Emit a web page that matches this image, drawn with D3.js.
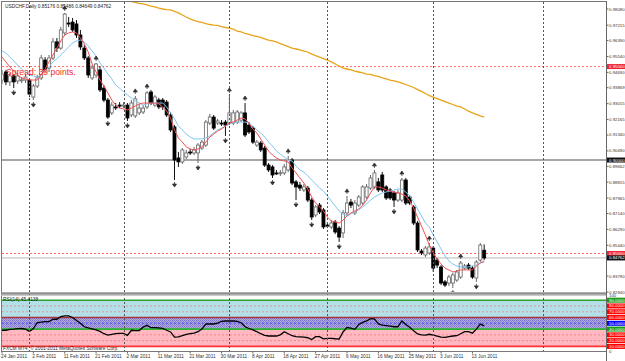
<!DOCTYPE html>
<html>
<head>
<meta charset="utf-8">
<script src="https://cdn.jsdelivr.net/npm/d3@7"></script>
<style>
  body { margin: 0; background: #fff; }
  svg { display: block; font-family: "Liberation Sans", Arial, sans-serif; }
</style>
</head>
<body>
<div id="chart"></div>
<script>
// USDCHF daily bars, 24 Jan 2011 .. 16 Jun 2011
var opens = [
  .9428, .9471, .9418, .9450, .9423, .9428, .9428, .9428, .9337, .9396,
  .9439, .9535, .9492, .9546, .9632, .9599, .9680, .9733, .9738, .9728,
  .9669, .9599, .9546, .9439, .9455, .9482, .9385, .9321, .9252, .9284,
  .9294, .9289, .9294, .9241, .9236, .9252, .9257, .9284, .9364, .9294,
  .9321, .9321, .9310, .9241, .9177, .9011, .8990, .9016, .9043, .9038,
  .9038, .9064, .9080, .9198, .9230, .9198, .9198, .9203, .9198, .9198,
  .9203, .9214, .9252, .9187, .9171, .9080, .9091, .9064, .8973, .8963,
  .8931, .8931, .8931, .8947, .9000, .8883, .8866, .8840, .8850, .8786,
  .8706, .8759, .8733, .8652, .8642, .8668, .8636, .8610, .8717, .8775,
  .8717, .8759, .8770, .8802, .8850, .8856, .8883, .8920, .8856, .8840,
  .8824, .8786, .8786, .8893, .8802, .8749, .8663, .8513, .8492, .8503,
  .8529, .8465, .8428, .8348, .8342, .8342, .8358, .8374, .8422, .8438,
  .8422, .8369, .8465, .85176
];
var highs = [
  .9482, .9482, .9466, .9460, .9466, .9444, .9460, .9439, .9407, .9455,
  .9562, .9551, .9562, .9653, .9653, .9712, .9787, .9765, .9760, .9749,
  .9696, .9615, .9557, .9508, .9519, .9503, .9401, .9332, .9310, .9305,
  .9310, .9310, .9305, .9321, .9343, .9300, .9294, .9369, .9375, .9348,
  .9332, .9332, .9321, .9257, .9187, .9043, .9064, .9054, .9059, .9070,
  .9091, .9107, .9214, .9246, .9241, .9220, .9214, .9214, .9348, .9268,
  .9268, .9262, .9305, .9203, .9182, .9107, .9102, .9075, .8984, .8973,
  .8947, .8947, .8979, .9022, .9011, .8893, .8883, .8872, .8861, .8797,
  .8759, .8770, .8743, .8668, .8679, .8679, .8647, .8733, .8808, .8792,
  .8786, .8813, .8866, .8872, .8920, .8947, .8904, .8936, .8866, .8850,
  .8834, .8840, .8904, .8904, .8813, .8759, .8674, .8524, .8540, .8556,
  .8540, .8476, .8438, .8358, .8385, .8396, .8412, .8460, .8444, .8449,
  .8433, .8465, .8556, .85486
];
var lows = [
  .9407, .9401, .9396, .9385, .9407, .9412, .9412, .9337, .9321, .9385,
  .9428, .9471, .9471, .9535, .9578, .9589, .9669, .9712, .9685, .9653,
  .9589, .9535, .9439, .9428, .9439, .9364, .9310, .9220, .9241, .9268,
  .9278, .9278, .9209, .9230, .9225, .9241, .9246, .9273, .9294, .9284,
  .9273, .9268, .9230, .9150, .8893, .8963, .8979, .9006, .9027, .9027,
  .8984, .9054, .9070, .9187, .9161, .9187, .9182, .9129, .9187, .9187,
  .9193, .9203, .9123, .9139, .9086, .9070, .9043, .8963, .8936, .8904,
  .8920, .8915, .8920, .8936, .8866, .8786, .8834, .8829, .8775, .8679,
  .8695, .8711, .8631, .8636, .8631, .8604, .8562, .8583, .8706, .8743,
  .8706, .8749, .8759, .8792, .8840, .8845, .8829, .8829, .8786, .8786,
  .8749, .8775, .8775, .8759, .8759, .8652, .8508, .8492, .8481, .8492,
  .8401, .8422, .8331, .8321, .8326, .8315, .8348, .8364, .8412, .8412,
  .8364, .8348, .8454, .84649
];
var closes = [
  .9460, .9418, .9450, .9418, .9450, .9429, .9444, .9353, .9396, .9439,
  .9546, .9482, .9546, .9632, .9599, .9696, .9781, .9732, .9696, .9669,
  .9605, .9546, .9455, .9492, .9514, .9375, .9321, .9230, .9294, .9283,
  .9289, .9294, .9225, .9305, .9327, .9278, .9278, .9359, .9305, .9337,
  .9284, .9284, .9241, .9161, .9000, .8990, .9054, .9038, .9042, .9054,
  .9080, .9096, .9203, .9230, .9171, .9209, .9197, .9187, .9252, .9252,
  .9257, .9252, .9134, .9150, .9096, .9096, .9054, .8973, .8947, .8920,
  .8930, .8932, .8963, .9000, .8877, .8856, .8850, .8856, .8786, .8695,
  .8749, .8722, .8642, .8651, .8663, .8615, .8588, .8717, .8770, .8759,
  .8770, .8802, .8856, .8856, .8904, .8931, .8840, .8840, .8797, .8797,
  .8786, .8824, .8893, .8770, .8770, .8663, .8519, .8503, .8529, .8535,
  .8422, .8438, .8342, .8331, .8374, .8385, .8401, .8449, .8433, .8422,
  .8374, .8454, .8545, .84762
];

// moving averages as drawn on the chart
var maFast = [
  .9551, .9525, .9498, .9476, .9455, .9439, .9434, .9428, .9428, .9428,
  .9455, .9487, .9525, .9562, .9599, .9637, .9669, .9680, .9685, .9680,
  .9653, .9621, .9578, .9514, .9471, .9428, .9396, .9359, .9321, .9294,
  .9278, .9273, .9268, .9278, .9289, .9300, .9305, .9305, .9305, .9305,
  .9300, .9284, .9262, .9225, .9161, .9118, .9096, .9070, .9059, .9054,
  .9059, .9070, .9096, .9123, .9139, .9155, .9166, .9182, .9198, .9203,
  .9214, .9225, .9220, .9198, .9166, .9145, .9113, .9080, .9048, .9027,
  .9011, .9000, .8995, .8990, .8957, .8931, .8904, .8877, .8845, .8802,
  .8770, .8749, .8727, .8695, .8674, .8668, .8663, .8679, .8701, .8717,
  .8727, .8738, .8759, .8786, .8824, .8856, .8856, .8850, .8840, .8834,
  .8829, .8824, .8818, .8808, .8781, .8743, .8695, .8647, .8599, .8545,
  .8503, .8470, .8444, .8422, .8412, .8401, .8406, .8412, .8412, .8412,
  .8412, .8433, .8449, .8460
];
var maSlow = [
  .9583, .9573, .9551, .9530, .9508, .9487, .9471, .9455, .9450, .9444,
  .9455, .9476, .9498, .9525, .9541, .9562, .9583, .9605, .9626, .9637,
  .9642, .9632, .9610, .9583, .9557, .9519, .9492, .9460, .9434, .9401,
  .9385, .9364, .9348, .9332, .9316, .9305, .9294, .9300, .9305, .9305,
  .9305, .9305, .9284, .9252, .9220, .9182, .9161, .9139, .9123, .9113,
  .9113, .9113, .9118, .9129, .9145, .9161, .9171, .9182, .9193, .9198,
  .9203, .9203, .9203, .9198, .9182, .9161, .9145, .9123, .9096, .9075,
  .9048, .9032, .9016, .9000, .8995, .8968, .8947, .8936, .8915, .8893,
  .8872, .8850, .8834, .8808, .8781, .8754, .8727, .8711, .8701, .8711,
  .8722, .8733, .8749, .8765, .8786, .8802, .8813, .8824, .8829, .8834,
  .8840, .8845, .8845, .8829, .8808, .8775, .8738, .8701, .8663, .8642,
  .8599, .8562, .8524, .8487, .8460, .8444, .8433, .8428, .8428, .8428,
  .8433, .8438, .8449, .8454
];
// long MA only shows from bar 30 on (above the window before that)
var ma200Start = 30;
var ma200 = [
  .9867, .9862, .9854, .9848, .9843, .9838, .9835, .9830, .9824, .9819,
  .9813, .9808, .9805, .9803, .9795, .9787, .9776, .9765, .9755, .9747,
  .9741, .9736, .9730, .9725, .9722, .9720, .9714, .9709, .9706, .9701,
  .9690, .9685, .9677, .9672, .9666, .9661, .9656, .9648, .9642, .9637,
  .9632, .9623, .9615, .9607, .9599, .9594, .9589, .9583, .9578, .9567,
  .9559, .9551, .9543, .9535, .9525, .9514, .9503, .9492, .9487, .9482,
  .9476, .9471, .9466, .9460, .9458, .9452, .9447, .9439, .9434, .9428,
  .9423, .9418, .9412, .9404, .9396, .9388, .9377, .9367, .9356, .9345,
  .9337, .9329, .9321, .9313, .9305, .9297, .9289, .9284, .9273, .9262,
  .9252, .9244, .9236, .9230
];

// bar indexes carrying a fractal arrow
var fractalUp = [16, 24, 34, 37, 58, 62, 73, 88, 95, 102, 109, 117];
var fractalDown = [3, 8, 27, 32, 44, 50, 57, 69, 75, 79, 86, 100, 115, 121];

// RSI(14)
var rsi = [
  38, 38, 39.5, 40, 40.7, 41, 40, 36, 41, 51,
  52, 52.8, 53, 57, 57, 61.5, 63, 62.8, 60, 55,
  50, 44, 42, 40.5, 38.5, 36, 32, 29.5, 31, 32,
  32.7, 32.7, 29, 38, 37.5, 37.5, 43.5, 46.5, 42.4, 42.4,
  42, 41.3, 38, 35, 26, 26.5, 28.5, 31, 32, 33,
  35.5, 40, 48.8, 48.8, 48.8, 50.5, 53.5, 54, 54, 54,
  53.3, 51, 44, 41, 38.5, 35.5, 32, 29, 28, 28,
  28, 30, 35.5, 32, 28.5, 27, 26.5, 26, 25, 22,
  26.8, 26.8, 23, 24, 24, 23.3, 22.8, 35, 43, 41.5,
  39.6, 48, 51.7, 54, 58, 57.5, 49, 47, 46, 45,
  44, 44, 54, 48, 43, 37, 31.5, 30, 29.7, 31,
  29.5, 28, 26, 25.5, 27, 28, 28.5, 32, 35.5, 35.5,
  33, 40, 48.5, 45.4138
];

// time axis: one label every 8 bars
var dateLabels = ["24 Jan 2011", "2 Feb 2011", "11 Feb 2011", "21 Feb 2011", "2 Mar 2011",
  "11 Mar 2011", "21 Mar 2011", "30 Mar 2011", "8 Apr 2011", "18 Apr 2011", "27 Apr 2011",
  "6 May 2011", "16 May 2011", "25 May 2011", "3 Jun 2011", "13 Jun 2011"];
var monthStarts = [7, 31, 58, 83, 110, 138];

// visible price labels (the one under the bid box is hidden in the original)
var priceTicks = [0.98080, 0.97215, 0.96390, 0.95540, 0.94690, 0.93869, 0.93015, 0.92165,
  0.91340, 0.90490, 0.89662, 0.88815, 0.87965, 0.87140, 0.86290, 0.85440,
  0.83790, 0.82940];

var levelPrices = [0.95, 0.90, 0.85];
var levelKinds = ["red", "gray", "red"];
var bidPrice = 0.84762;

var rsiLevels = [90, 80, 70, 60, 50, 40, 30, 20, 10];
var rsiLevelColors = ["#2aa52a", "#d99", "#d99", "#a33", "#55f", "#2ab52a", "#e88", "#e88", "#f33"];
var rsiBoxColors = ["#1a9a1a", "#f00", "#f00", "#f00", "#00f", "#1a9a1a", "#f00", "#f00", "#f00"];

// ----------------------------------------------------------------
var svgWidth = 625;
var svgHeight = 361;
var axisX = 606.5;
var labelFont = "4.3px";

var svg = d3.select("#chart")
  .append("svg")
  .attr("width", svgWidth)
  .attr("height", svgHeight);

var defs = svg.append("defs");
defs.append("clipPath").attr("id", "mainClip")
  .append("rect").attr("x", 2).attr("y", 2).attr("width", axisX - 2).attr("height", 290);
defs.append("clipPath").attr("id", "rsiClip")
  .append("rect").attr("x", 2).attr("y", 296).attr("width", axisX - 2).attr("height", 55);

var dots = defs.append("pattern").attr("id", "dither")
  .attr("width", 2).attr("height", 2).attr("patternUnits", "userSpaceOnUse");
dots.append("rect").attr("width", 2).attr("height", 2).attr("fill", "#b4acd8");
dots.append("rect").attr("width", 1).attr("height", 1).attr("fill", "#7a74cc");
dots.append("rect").attr("x", 1).attr("y", 1).attr("width", 1).attr("height", 1).attr("fill", "#8c86d0");

var xScale = d3.scaleLinear().domain([0, opens.length - 1]).range([2, 484.2]);
var yScale = d3.scaleLinear().domain([0.8294, 0.9808]).range([292, 9]);
var rsiScale = d3.scaleLinear().domain([0, 100]).range([352.2, 294.4]);

var mainG = svg.append("g").attr("clip-path", "url(#mainClip)");
var rsiG = svg.append("g").attr("clip-path", "url(#rsiClip)");

// RSI background bands
rsiG.append("rect").attr("x", 2).attr("width", axisX - 2)
  .attr("y", rsiScale(90)).attr("height", rsiScale(60) - rsiScale(90)).attr("fill", "#b2dfe8");
rsiG.append("rect").attr("x", 2).attr("width", axisX - 2)
  .attr("y", rsiScale(60)).attr("height", rsiScale(40) - rsiScale(60)).attr("fill", "url(#dither)");
rsiG.append("rect").attr("x", 2).attr("width", axisX - 2)
  .attr("y", rsiScale(40)).attr("height", rsiScale(10) - rsiScale(40)).attr("fill", "#ffb8c2");

rsiLevels.forEach(function (lv, k) {
  var solid = (lv === 90 || lv === 60 || lv === 40 || lv === 10);
  rsiG.append("line")
    .attr("x1", 2).attr("x2", axisX)
    .attr("y1", rsiScale(lv)).attr("y2", rsiScale(lv))
    .attr("stroke", rsiLevelColors[k])
    .attr("stroke-width", solid ? 1.6 : 1)
    .attr("stroke-dasharray", solid ? null : "2,2");
});

// month separators through both panels
svg.append("g").selectAll("line")
  .data(monthStarts)
  .enter()
  .append("line")
  .attr("x1", d => Math.round(xScale(d)) + 0.5)
  .attr("x2", d => Math.round(xScale(d)) + 0.5)
  .attr("y1", 2).attr("y2", 351)
  .attr("stroke", "#555")
  .attr("stroke-dasharray", "2,2");

// horizontal levels
levelPrices.forEach(function (p, k) {
  var yy = yScale(p);
  mainG.append("line")
    .attr("x1", 2).attr("x2", axisX)
    .attr("y1", yy).attr("y2", yy)
    .attr("stroke", levelKinds[k] === "red" ? "#ff6a6a" : "#8a8a8a")
    .attr("stroke-width", levelKinds[k] === "red" ? 1 : 1.6)
    .attr("stroke-dasharray", levelKinds[k] === "red" ? "2,2" : null);
});
mainG.append("line")
  .attr("x1", 2).attr("x2", axisX)
  .attr("y1", yScale(bidPrice)).attr("y2", yScale(bidPrice))
  .attr("stroke", "#b8b8b8");

// candles
var bars = d3.range(opens.length).map(function (i) {
  return { i: i, o: opens[i], h: highs[i], l: lows[i], c: closes[i] };
});

mainG.append("g").selectAll("line")
  .data(bars)
  .enter()
  .append("line")
  .attr("x1", d => xScale(d.i)).attr("x2", d => xScale(d.i))
  .attr("y1", d => yScale(d.h)).attr("y2", d => yScale(d.l))
  .attr("stroke", d => d.c >= d.o ? "#666" : "#111")
  .attr("stroke-width", 1);

mainG.append("g").selectAll("rect")
  .data(bars)
  .enter()
  .append("rect")
  .attr("x", d => xScale(d.i) - 1.5)
  .attr("width", 3)
  .attr("y", d => yScale(Math.max(d.o, d.c)))
  .attr("height", d => Math.max(1, Math.abs(yScale(d.o) - yScale(d.c))))
  .attr("fill", d => d.c >= d.o ? "#fff" : "#000")
  .attr("stroke", d => d.c >= d.o ? "#666" : "#000")
  .attr("stroke-width", 0.8);

// moving averages
function drawLine(g, values, start, color, width) {
  var line = d3.line()
    .x((d, k) => xScale(start + k))
    .y(d => yScale(d));
  g.append("path")
    .datum(values)
    .attr("d", line)
    .attr("fill", "none")
    .attr("stroke", color)
    .attr("stroke-width", width);
}
drawLine(mainG, maSlow, 0, "#7fc4f0", 1);
drawLine(mainG, maFast, 0, "#f05050", 1);
drawLine(mainG, ma200, ma200Start, "#e8a317", 1.3);

// fractal arrows
function arrow(cx, tip, dir) {
  // dir = -1 points up, +1 points down
  var base = tip - dir * 3;
  return "M" + cx + "," + tip + "L" + (cx - 2) + "," + base + "L" + (cx + 2) + "," + base + "Z" +
    "M" + cx + "," + base + "L" + cx + "," + (base - dir * 2);
}
mainG.append("g").selectAll("path")
  .data(fractalUp)
  .enter()
  .append("path")
  .attr("d", i => arrow(xScale(i), yScale(highs[i]) - 7, -1))
  .attr("fill", "#333").attr("stroke", "#333").attr("stroke-width", 0.8);
mainG.append("g").selectAll("path")
  .data(fractalDown)
  .enter()
  .append("path")
  .attr("d", i => arrow(xScale(i), yScale(lows[i]) + 7, 1))
  .attr("fill", "#333").attr("stroke", "#333").attr("stroke-width", 0.8);

// RSI line
rsiG.append("path")
  .datum(rsi)
  .attr("d", d3.line().x((d, k) => xScale(k)).y(d => rsiScale(d)))
  .attr("fill", "none")
  .attr("stroke", "#000")
  .attr("stroke-width", 1.3);

// texts inside the panels
svg.append("text").attr("x", 5).attr("y", 8)
  .style("font-size", "4.8px").attr("fill", "#222")
  .text("USDCHF,Daily  " + opens[123].toFixed(5) + " " + highs[123].toFixed(5) + " " +
    lows[123].toFixed(5) + " " + closes[123].toFixed(5));
svg.append("text").attr("x", 6).attr("y", 75)
  .style("font-size", "8.6px").attr("fill", "#f02828")
  .text("Spread: 39 points.");
svg.append("text").attr("x", 3).attr("y", 300.5)
  .style("font-size", "4.8px").attr("fill", "#222")
  .text("RSI(14) " + rsi[rsi.length - 1].toFixed(4));
svg.append("text").attr("x", 3).attr("y", 350.3)
  .style("font-size", "4.8px").attr("fill", "#333")
  .text("FXCM MT4, \u00a9 2001-2011 MetaQuotes Software Corp.");

// frame and panel separator
svg.append("line").attr("x1", 1.5).attr("x2", 1.5).attr("y1", 1).attr("y2", 351.5).attr("stroke", "#777");
svg.append("line").attr("x1", 1).attr("x2", axisX).attr("y1", 1.5).attr("y2", 1.5).attr("stroke", "#777");
svg.append("rect").attr("x", 1).attr("y", 292.3).attr("width", axisX - 1).attr("height", 2.4).attr("fill", "#8d8d8d");
svg.append("line").attr("x1", 1).attr("x2", axisX).attr("y1", 295.6).attr("y2", 295.6).attr("stroke", "#c4c4c4");
svg.append("line").attr("x1", 1).attr("x2", axisX).attr("y1", 351.5).attr("y2", 351.5).attr("stroke", "#777");
svg.append("line").attr("x1", axisX).attr("x2", axisX).attr("y1", 1).attr("y2", 361).attr("stroke", "#666");

// price axis
var axisG = svg.append("g");
priceTicks.forEach(function (p) {
  var yy = yScale(p);
  axisG.append("line").attr("x1", axisX).attr("x2", axisX + 2).attr("y1", yy).attr("y2", yy).attr("stroke", "#666");
  axisG.append("text").attr("x", axisX + 2.6).attr("y", yy + 1.5)
    .style("font-size", labelFont).attr("fill", "#333")
    .text(p.toFixed(5));
});

function axisBox(yy, fill, label) {
  axisG.append("rect").attr("x", axisX + 0.5).attr("y", yy - 2.5).attr("width", svgWidth - axisX - 0.5).attr("height", 5)
    .attr("fill", fill);
  axisG.append("text").attr("x", axisX + 2.6).attr("y", yy + 1.5)
    .style("font-size", labelFont).attr("fill", "#fff")
    .text(label);
}
levelPrices.forEach(function (p, k) {
  axisBox(yScale(p), levelKinds[k] === "red" ? "#ee2233" : "#111", p.toFixed(5));
});
axisBox(yScale(bidPrice), "#111", bidPrice.toFixed(5));

// RSI scale labels
axisG.append("text").attr("x", axisX + 2.6).attr("y", 297.4).style("font-size", labelFont).attr("fill", "#333").text("100");
rsiLevels.forEach(function (lv, k) {
  axisBox(rsiScale(lv), rsiBoxColors[k], lv.toFixed(4));
});
axisG.append("text").attr("x", axisX + 2.6).attr("y", 352.6).style("font-size", labelFont).attr("fill", "#333").text("0");

// time axis
var dateG = svg.append("g");
dateLabels.forEach(function (lab, k) {
  var xx = xScale(k * 8);
  dateG.append("line").attr("x1", xx).attr("x2", xx).attr("y1", 351.5).attr("y2", 353.5).attr("stroke", "#666");
  dateG.append("text").attr("x", xx - 1).attr("y", 357.5)
    .style("font-size", "4.8px").attr("fill", "#333")
    .text(lab);
});
</script>
</body>
</html>
